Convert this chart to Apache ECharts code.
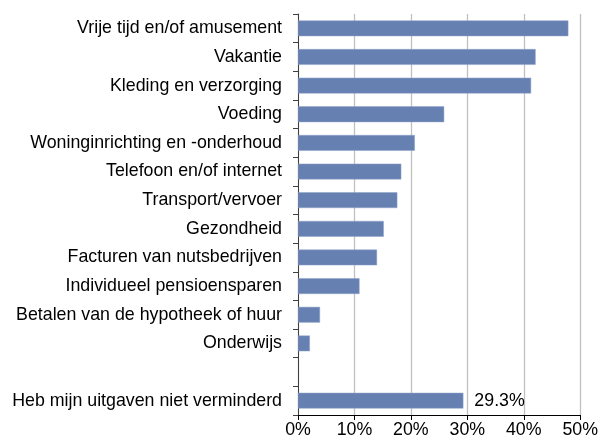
<!DOCTYPE html>
<html>
<head>
<meta charset="utf-8">
<script src="https://cdn.jsdelivr.net/npm/echarts@6/dist/echarts.min.js"></script>
<style>
  html, body { margin: 0; padding: 0; background: #fff; }
  #chart { width: 601px; height: 444px; }
</style>
</head>
<body>
<div id="chart"></div>
<script>
// categorieën van boven naar beneden (lege regel = scheiding)
const categories = [
  "Vrije tijd en/of amusement",
  "Vakantie",
  "Kleding en verzorging",
  "Voeding",
  "Woninginrichting en -onderhoud",
  "Telefoon en/of internet",
  "Transport/vervoer",
  "Gezondheid",
  "Facturen van nutsbedrijven",
  "Individueel pensioensparen",
  "Betalen van de hypotheek of huur",
  "Onderwijs",
  "",
  "Heb mijn uitgaven niet verminderd"
];
const values = [47.9, 42.1, 41.3, 25.9, 20.7, 18.3, 17.6, 15.2, 14.0, 10.9, 3.9, 2.1, null, 29.3];
const labelledIndex = 13; // alleen deze balk krijgt een label

const chart = echarts.init(document.getElementById("chart"));
const font = "'Liberation Sans', Arial, sans-serif";

chart.setOption({
  animation: false,
  grid: { left: 298, right: 18, top: 14, bottom: 29, containLabel: false },
  xAxis: {
    type: "value",
    min: 0,
    max: 50,
    interval: 10,
    axisLine: { show: true, lineStyle: { color: "#000", width: 1 } },
    axisTick: { show: true, length: 5, lineStyle: { color: "#000" } },
    axisLabel: {
      formatter: "{value}%",
      color: "#000",
      fontFamily: font,
      fontSize: 17.8,
      margin: 6
    },
    splitLine: { show: true, lineStyle: { color: "#c0c0c0", width: 1.3 } }
  },
  yAxis: {
    type: "category",
    inverse: true,
    data: categories,
    axisLine: { show: true, lineStyle: { color: "#404040", width: 1 } },
    axisTick: { show: true, length: 5, lineStyle: { color: "#404040" } },
    axisLabel: {
      color: "#000",
      fontFamily: font,
      fontSize: 17.8,
      margin: 16
    }
  },
  series: [{
    type: "bar",
    data: values.map((v, i) => ({
      value: v === null ? "-" : v,
      label: {
        show: i === labelledIndex,
        position: "right",
        distance: 11,
        formatter: (p) => p.value.toFixed(1) + "%",
        color: "#000",
        fontFamily: font,
        fontSize: 17.8
      }
    })),
    barCategoryGap: "45%",
    itemStyle: { color: "#6780b2", borderColor: "#8ea2c9", borderWidth: 0.5 }
  }]
});
</script>
</body>
</html>
